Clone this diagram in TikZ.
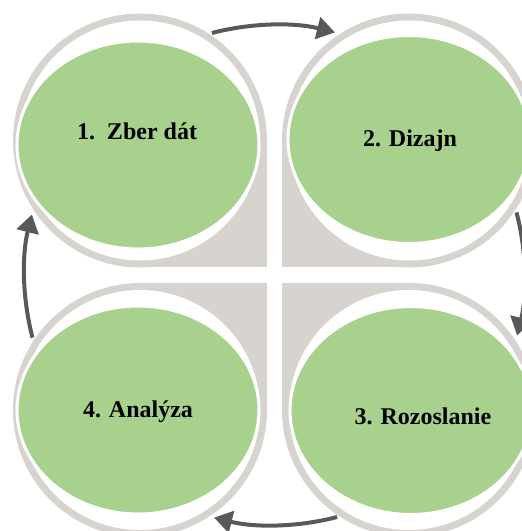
\documentclass[tikz,border=0pt]{standalone}
\usepackage{fontspec}
\setmainfont{Liberation Serif}
\usetikzlibrary{shapes.geometric,arrows.meta}
\definecolor{ringgray}{RGB}{215,212,208}
\definecolor{leafgreen}{RGB}{169,209,142}
\definecolor{arrowgray}{RGB}{89,89,89}
\tikzset{
  greenoval/.style={ellipse, fill=leafgreen, draw=white, line width=3pt,
    minimum width=242pt, minimum height=208pt, inner sep=0pt},
  steplabel/.style={anchor=base, inner sep=0pt,
    font=\fontsize{24}{28}\selectfont\bfseries, text=black},
  cyclearrow/.style={draw=arrowgray, line width=4pt,
    -{Triangle[length=18pt,width=22pt]}},
}
\begin{document}
\begin{tikzpicture}[x=1pt,y=-1pt]
\useasboundingbox (0,0) rectangle (522,531);
% gray backgrounds
\fill[ringgray] (140,140.5) circle (127);
\fill[ringgray] (140,140.5) rectangle (267,267);
\fill[white] (140,140.5) circle (120);
\fill[ringgray] (409,140.5) circle (127);
\fill[ringgray] (409,140.5) rectangle (282,267);
\fill[white] (409,140.5) circle (120);
\fill[ringgray] (409,410) circle (127);
\fill[ringgray] (409,410) rectangle (282,283);
\fill[white] (409,410) circle (120);
\fill[ringgray] (140,410) circle (127);
\fill[ringgray] (140,410) rectangle (267,283);
\fill[white] (140,410) circle (120);
% green ovals
\node[greenoval] (q1) at (138,145) {};
\node[greenoval] (q2) at (409,139.5) {};
\node[greenoval] (q3) at (411,410.5) {};
\node[greenoval] (q4) at (138,410) {};
% labels
\node[steplabel] (t1) at (137,139) {1.\ \ Zber dát};
\node[steplabel] (t2) at (410,146) {2. Dizajn};
\node[steplabel] (t3) at (423,424) {3. Rozoslanie};
\node[steplabel] (t4) at (138,417) {4. Analýza};
% cycle arrows
\coordinate (c) at (274.5,275);
\draw[cyclearrow] ([shift={(-104.5:250)}]c) arc[start angle=-104.5, end angle=-76, radius=250];
\draw[cyclearrow] ([shift={(-14.5:250)}]c) arc[start angle=-14.5, end angle=14, radius=250];
\draw[cyclearrow] ([shift={(75.5:250)}]c) arc[start angle=75.5, end angle=104, radius=250];
\draw[cyclearrow] ([shift={(165.5:250)}]c) arc[start angle=165.5, end angle=194, radius=250];
\end{tikzpicture}
\end{document}
